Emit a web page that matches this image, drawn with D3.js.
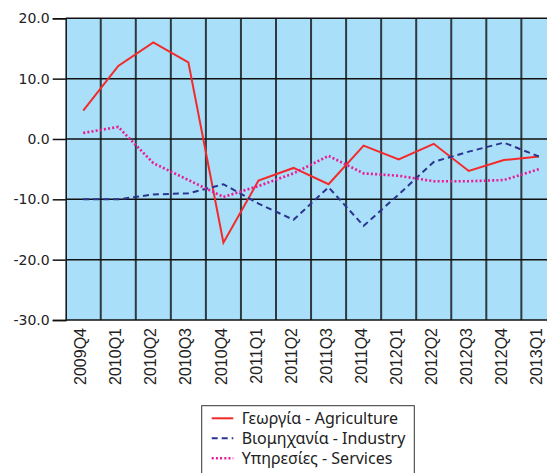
<!DOCTYPE html>
<html>
<head>
<meta charset="utf-8">
<script src="https://cdn.jsdelivr.net/npm/d3@7"></script>
<style>
  body { margin: 0; background: #fff; }
  svg { display: block; }
</style>
</head>
<body>
<svg width="547" height="473"></svg>
<script>
const quarters = ['2009Q4', '2010Q1', '2010Q2', '2010Q3', '2010Q4', '2011Q1', '2011Q2',
    '2011Q3', '2011Q4', '2012Q1', '2012Q2', '2012Q3', '2012Q4', '2013Q1'];
const agriculture = [4.7, 12.1, 16.0, 12.7, -17.2, -6.9, -4.8, -7.5, -1.1, -3.4, -0.8, -5.3, -3.5, -2.9];
const industry = [-10.0, -10.0, -9.2, -9.0, -7.5, -10.7, -13.4, -8.0, -14.4, -9.2, -3.8, -2.1, -0.6, -2.9];
const services = [1.0, 2.0, -4.0, -6.8, -9.6, -7.8, -5.7, -2.8, -5.7, -6.1, -7.0, -7.0, -6.8, -5.0];
const yTicks = [-30, -20, -10, 0, 10, 20];
const seriesNames = ['Γεωργία - Agriculture', 'Βιομηχανία - Industry', 'Υπηρεσίες - Services'];

const svg = d3.select('svg');

const plotLeft = 65.7;
const plotTop = 18.3;
const plotBottom = 320;
const cell = 35.05;

const x = d3.scaleBand()
    .domain(quarters)
    .range([plotLeft, plotLeft + cell * quarters.length]);

const y = d3.scaleLinear()
    .domain([-30, 20])
    .range([plotBottom, plotTop]);

// plot background
svg.append('rect')
    .attr('x', plotLeft)
    .attr('y', plotTop)
    .attr('width', cell * quarters.length)
    .attr('height', plotBottom - plotTop)
    .attr('fill', '#a9dff8');

// vertical grid (band edges)
svg.append('g')
    .selectAll('line')
    .data(quarters.slice(1))
    .join('line')
        .attr('x1', d => x(d))
        .attr('x2', d => x(d))
        .attr('y1', plotTop)
        .attr('y2', plotBottom)
        .attr('stroke', '#2f3a40')
        .attr('stroke-width', 2);

// horizontal grid
svg.append('g')
    .selectAll('line')
    .data(yTicks)
    .join('line')
        .attr('x1', plotLeft)
        .attr('x2', 547)
        .attr('y1', d => y(d))
        .attr('y2', d => y(d))
        .attr('stroke', '#111')
        .attr('stroke-width', 1.5);

// y axis
const yAxis = svg.append('g')
    .attr('transform', `translate(${plotLeft}, 0)`)
    .call(d3.axisLeft(y).tickValues(yTicks).tickSize(13).tickPadding(3)
        .tickFormat(d => d.toFixed(1)));
yAxis.select('.domain').attr('stroke', '#111').attr('stroke-width', 1.5);
yAxis.selectAll('.tick line').attr('stroke', '#111').attr('stroke-width', 1.5);
yAxis.selectAll('text')
    .attr('font-family', 'DejaVu Sans')
    .attr('font-size', 14)
    .attr('fill', '#222');

// x labels
svg.append('g')
    .selectAll('text')
    .data(quarters)
    .join('text')
        .attr('transform', d => `translate(${x(d) + x.bandwidth() / 2 - 2.5}, 328) rotate(-90)`)
        .attr('dy', '0.35em')
        .attr('text-anchor', 'end')
        .attr('font-family', 'Liberation Sans')
        .attr('font-size', 16)
        .attr('fill', '#222')
        .text(d => d);

const line = d3.line()
    .x((d, i) => x(quarters[i]) + x.bandwidth() / 2)
    .y(d => y(d));

const styles = [
    { color: '#f42a2a', dash: null, width: 2 },
    { color: '#2b3590', dash: '6,4', width: 2 },
    { color: '#ea1a94', dash: '2,2.2', width: 2.6 }
];
const allSeries = [agriculture, industry, services];

allSeries.forEach((s, i) => {
    svg.append('path')
        .attr('d', line(s))
        .attr('fill', 'none')
        .attr('stroke', styles[i].color)
        .attr('stroke-width', styles[i].width)
        .attr('stroke-dasharray', styles[i].dash);
});

// legend
const legend = svg.append('g');
legend.append('rect')
    .attr('x', 201.7)
    .attr('y', 405.7)
    .attr('width', 212.6)
    .attr('height', 80)
    .attr('fill', '#fff')
    .attr('stroke', '#333')
    .attr('stroke-width', 1);

seriesNames.forEach((name, i) => {
    const rowY = 418.3 + i * 20;
    legend.append('line')
        .attr('x1', 211.7)
        .attr('x2', 233.3)
        .attr('y1', rowY)
        .attr('y2', rowY)
        .attr('stroke', styles[i].color)
        .attr('stroke-width', styles[i].width)
        .attr('stroke-dasharray', styles[i].dash);
    legend.append('text')
        .attr('x', 241.7)
        .attr('y', rowY)
        .attr('dy', '0.35em')
        .attr('font-family', 'Noto Sans')
        .attr('font-size', 16)
        .attr('fill', '#222')
        .text(name);
});
</script>
</body>
</html>
